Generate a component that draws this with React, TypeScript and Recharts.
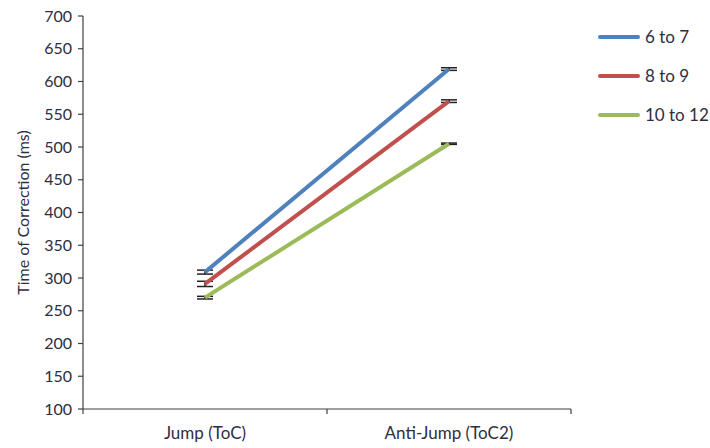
import { ErrorBar, Line, LineChart, XAxis, YAxis, Label } from "recharts";

// values
const conditions = ["Jump (ToC)", "Anti-Jump (ToC2)"];
const age6to7 = [309, 619];
const age8to9 = [291, 570];
const age10to12 = [270, 505];
const err6to7 = [3, 2];
const err8to9 = [4, 2];
const err10to12 = [2, 1];
const yTicks = [100, 150, 200, 250, 300, 350, 400, 450, 500, 550, 600, 650, 700];

const series = [
  { key: "a", name: "6 to 7", color: "#4F81BD", values: age6to7, errs: err6to7 },
  { key: "b", name: "8 to 9", color: "#C0504D", values: age8to9, errs: err8to9 },
  { key: "c", name: "10 to 12", color: "#9BBB59", values: age10to12, errs: err10to12 },
];

const data = conditions.map((label, i) => {
  const row: Record<string, number | string> = { label, x: i + 0.5 };
  series.forEach((s) => {
    row[s.key] = s.values[i];
    row[s.key + "Err"] = s.errs[i];
  });
  return row;
});

const FONT = "Lato, 'Open Sans', sans-serif";
const TEXT = "#2e2e40";
const AXIS = "#404040";

function XTick(props: any) {
  const { x, y, payload } = props;
  const v = payload.value as number;
  if (Number.isInteger(v)) {
    return <line x1={x} x2={x} y1={y - 5} y2={y} stroke={AXIS} strokeWidth={1.2} />;
  }
  return (
    <text x={x} y={y + 25} textAnchor="middle" fontSize={17} fill={TEXT} fontFamily={FONT}>
      {conditions[Math.floor(v)]}
    </text>
  );
}

function LegendBox() {
  return (
    <div style={{ position: "absolute", left: 598, top: 17, fontFamily: FONT, fontSize: 17, color: TEXT }}>
      {series.map((s) => (
        <div key={s.key} style={{ display: "flex", alignItems: "center", height: 39 }}>
          <div style={{ width: 42, height: 4, background: s.color, borderRadius: 2, marginRight: 5 }} />
          <span>{s.name}</span>
        </div>
      ))}
    </div>
  );
}

export default function App() {
  return (
    <div style={{ position: "absolute", left: 0, top: 0, width: 710, height: 448, background: "#fff" }}>
      <LineChart width={710} height={448} data={data} margin={{ top: 16, right: 139, bottom: 9, left: 23 }}>
        <XAxis
          dataKey="x"
          type="number"
          domain={[0, 2]}
          ticks={[0, 0.5, 1, 1.5, 2]}
          interval={0}
          tickLine={false}
          tickSize={5}
          tickMargin={0}
          height={30}
          axisLine={{ stroke: AXIS, strokeWidth: 1.2 }}
          tick={<XTick />}
        />
        <YAxis
          domain={[100, 700]}
          ticks={yTicks}
          interval={0}
          width={60}
          tickSize={5}
          tickMargin={6}
          axisLine={{ stroke: AXIS, strokeWidth: 1.2 }}
          tickLine={{ stroke: AXIS, strokeWidth: 1.2 }}
          tick={{ fontSize: 16, fill: TEXT, fontFamily: FONT }}
        >
          <Label
            content={(p: any) => {
              const vb = p.viewBox;
              const cx = 22;
              const cy = vb.y + vb.height / 2;
              return (
                <text
                  x={cx}
                  y={cy}
                  transform={`rotate(-90 ${cx} ${cy})`}
                  textAnchor="middle"
                  dominantBaseline="central"
                  fontSize={16}
                  fill={TEXT}
                  fontFamily={FONT}
                >
                  Time of Correction (ms)
                </text>
              );
            }}
          />
        </YAxis>
        {series.map((s) => (
          <Line
            key={s.key}
            dataKey={s.key}
            name={s.name}
            stroke={s.color}
            strokeWidth={4}
            dot={false}
            activeDot={false}
            isAnimationActive={false}
          >
            <ErrorBar dataKey={s.key + "Err"} width={8} stroke="#222" strokeWidth={1.5} direction="y" />
          </Line>
        ))}
      </LineChart>
      <LegendBox />
    </div>
  );
}
